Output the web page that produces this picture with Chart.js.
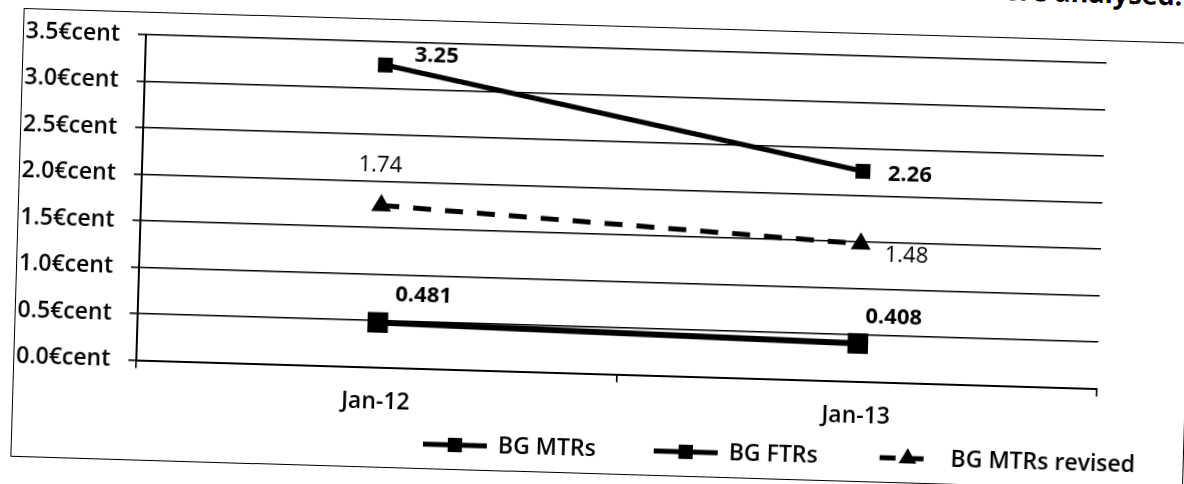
<!DOCTYPE html>
<html>
<head>
<meta charset="utf-8">
<script src="https://cdn.jsdelivr.net/npm/chart.js@4/dist/chart.umd.min.js"></script>
<style>
  html, body { margin: 0; padding: 0; background: #fff; }
  body { width: 1184px; height: 484px; overflow: hidden; position: relative; }
  #page {
    position: absolute; left: 0; top: 0; width: 1200px; height: 500px;
    transform-origin: 592px 242px; transform: rotate(1.7deg);
  }
  #heading {
    position: absolute; right: 25px; top: -35px; white-space: nowrap;
    font: bold 27px/26px "Open Sans", sans-serif; color: #000;
  }
  #frame {
    position: absolute; left: 17px; top: 25px; width: 1173px; height: 449px;
    border: 1.5px solid #000; box-sizing: border-box;
  }
  #chart { position: absolute; left: 0; top: 0; }
</style>
</head>
<body>
<div id="page">
  <div id="heading">were analysed.</div>
  <div id="frame"></div>
  <canvas id="chart" width="1200" height="500"></canvas>
</div>
<script>
// Termination rates, euro cents per minute
const categories = ['Jan-12', 'Jan-13'];
const bgMtrs = [3.25, 2.26];
const bgFtrs = [0.481, 0.408];
const bgMtrsRevised = [1.74, 1.48];
const seriesNames = ['BG MTRs', 'BG FTRs', 'BG MTRs revised'];
const yTicks = [0, 0.5, 1.0, 1.5, 2.0, 2.5, 3.0, 3.5];
const tickSuffix = '€cent';

const FONT = '"Open Sans", sans-serif';
const INK = '#000';

// value label placement per series / point (pixel nudges from the marker)
const labelOffsets = [
  [[51, -11], [47, 2]],
  [[45, -28], [35, -27]],
  [[-2, -40], [46, 11]]
];
const labelWeights = ['bold', 'bold', 'normal'];

const valueLabels = {
  id: 'valueLabels',
  afterDatasetsDraw(chart) {
    const ctx = chart.ctx;
    ctx.save();
    ctx.fillStyle = INK;
    ctx.textAlign = 'center';
    ctx.textBaseline = 'middle';
    chart.data.datasets.forEach((ds, i) => {
      const meta = chart.getDatasetMeta(i);
      ctx.font = labelWeights[i] + ' 22px ' + FONT;
      meta.data.forEach((pt, j) => {
        const [dx, dy] = labelOffsets[i][j];
        ctx.fillText(String(ds.data[j]), pt.x + dx, pt.y + dy);
      });
    });
    ctx.restore();
  }
};

// legend: line sample with its marker, then the series name
const lineLegend = {
  id: 'lineLegend',
  afterDraw(chart) {
    const ctx = chart.ctx;
    const y = 449;
    let x = 429;
    ctx.save();
    ctx.font = '600 23px ' + FONT;
    ctx.textBaseline = 'middle';
    ctx.fillStyle = INK;
    ctx.strokeStyle = INK;
    chart.data.datasets.forEach((ds) => {
      ctx.lineWidth = 5;
      ctx.beginPath();
      if (ds.borderDash) {
        // short dash, marker, short dash
        ctx.moveTo(x + 4, y); ctx.lineTo(x + 20, y);
        ctx.moveTo(x + 30, y); ctx.lineTo(x + 48, y);
      } else {
        ctx.moveTo(x, y); ctx.lineTo(x + 64, y);
      }
      ctx.stroke();
      Chart.helpers.drawPoint(ctx, {
        pointStyle: ds.pointStyle, radius: 10, borderWidth: 0, rotation: 0
      }, x + 32, y);
      ctx.fill();
      const tx = x + 75;
      ctx.fillText(ds.label, tx, y);
      x = tx + ctx.measureText(ds.label).width + 58;
    });
    ctx.restore();
  }
};

const series = [bgMtrs, bgFtrs, bgMtrsRevised];
const seriesStyle = [
  { borderWidth: 5, pointStyle: 'rect', pointRadius: 10.5 },
  { borderWidth: 6, pointStyle: 'rect', pointRadius: 14.5 },
  { borderWidth: 5, pointStyle: 'triangle', pointRadius: 11.5, borderDash: [18, 14] }
];

new Chart(document.getElementById('chart'), {
  type: 'line',
  data: {
    labels: categories,
    datasets: series.map((values, i) => Object.assign({
      label: seriesNames[i],
      data: values,
      borderColor: INK,
      backgroundColor: INK,
      pointBackgroundColor: INK,
      pointBorderColor: INK,
      pointBorderWidth: 0,
      tension: 0,
      fill: false,
      clip: false
    }, seriesStyle[i]))
  },
  options: {
    responsive: false,
    animation: false,
    devicePixelRatio: 1,
    layout: { padding: { left: 17, top: 48, right: 99, bottom: 66.5 } },
    plugins: { legend: { display: false }, tooltip: { enabled: false } },
    scales: {
      x: {
        offset: true,
        grid: { offset: true, drawOnChartArea: false, drawTicks: true, tickLength: 8, color: INK, lineWidth: 1.6 },
        border: { color: INK, width: 2 },
        ticks: { font: { family: FONT, size: 23, weight: '600' }, color: INK, padding: 13, maxRotation: 0 },
        afterFit(s) { s.height = 60; }
      },
      y: {
        min: 0,
        max: 3.5,
        afterBuildTicks(s) { s.ticks = yTicks.map(v => ({ value: v })); },
        grid: { drawTicks: true, tickLength: 8, color: INK, lineWidth: 1.6 },
        border: { color: INK, width: 2 },
        ticks: {
          font: { family: FONT, size: 23, weight: '600' }, color: INK, padding: 18,
          callback: (v) => Number(v).toFixed(1) + tickSuffix
        },
        afterFit(s) { s.width = 123; }
      }
    }
  },
  plugins: [valueLabels, lineLegend]
});
</script>
</body>
</html>
